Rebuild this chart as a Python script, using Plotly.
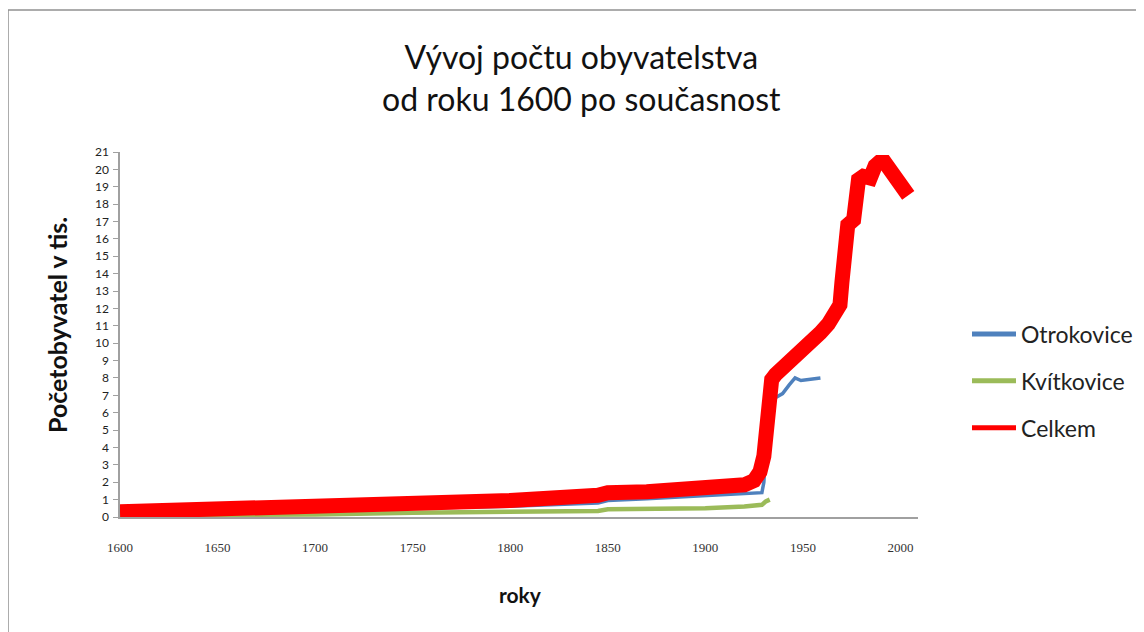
import plotly.graph_objects as go

# ---- data (population in thousands) ----
years_celkem = [1600, 1650, 1700, 1750, 1770, 1800, 1845, 1850, 1870, 1890, 1900, 1910, 1920, 1925,
                1928, 1930, 1931, 1932, 1933, 1934, 1936, 1940, 1947, 1954, 1959, 1963, 1966, 1969,
                1970, 1971, 1973, 1976, 1977, 1978.5, 1981, 1984.5, 1987, 1989, 1992, 1994, 1996,
                1998, 2000, 2002, 2004]
celkem = [0.3, 0.43, 0.57, 0.75, 0.83, 0.95, 1.25, 1.4, 1.45, 1.55, 1.7, 1.75, 1.85, 2.1,
          2.6, 3.5, 4.6, 6.0, 7.2, 7.9, 8.2, 8.6, 9.2, 9.9, 10.6, 11.1, 11.6, 12.2,
          13.5, 16.2, 16.8, 17.1, 18.0, 19.4, 19.6, 19.5, 20.2, 20.4, 20.4, 20.1, 19.8,
          19.5, 19.1, 18.7, 18.5]

years_otrokovice = [1600, 1650, 1700, 1750, 1800, 1845, 1850, 1870, 1900, 1920, 1929, 1930, 1931,
                    1932, 1935, 1939.6, 1943, 1946, 1949, 1954, 1959]
otrokovice = [0.2, 0.28, 0.38, 0.5, 0.62, 0.8, 0.95, 1.05, 1.25, 1.35, 1.4, 2.0, 4.0,
              6.0, 6.8, 7.1, 7.6, 8.0, 7.85, 7.9, 8.0]

years_kvitkovice = [1600, 1650, 1700, 1750, 1800, 1845, 1850, 1880, 1900, 1920, 1929, 1931, 1933]
kvitkovice = [0.1, 0.12, 0.15, 0.25, 0.3, 0.35, 0.45, 0.45, 0.5, 0.6, 0.7, 0.9, 1.0]

series_names = ["Otrokovice", "Kvítkovice", "Celkem"]
series_colors = ["#4F81BD", "#9BBB59", "#FF0000"]

x_tick_vals = [1600, 1650, 1700, 1750, 1800, 1850, 1900, 1950, 2000]
y_tick_vals = list(range(0, 22))

# page offset (html body margin) compensation
OFF = 8
W, H = 1144, 632
L, T = 120 - OFF, 152 - OFF
PW, PH = 798, 365
R = W - L - PW
B = H - T - PH


def px(xp):
    return (xp - OFF - L) / PW


def py(yp):
    return (H - (yp - OFF) - B) / PH


fig = go.Figure()

data_sets = [(years_otrokovice, otrokovice, 3.5),
             (years_kvitkovice, kvitkovice, 4.5),
             (years_celkem, celkem, 15)]

for (xs, ys, w), name, col in zip(data_sets, series_names, series_colors):
    fig.add_trace(go.Scatter(x=xs, y=ys, mode="lines", name=name,
                             line=dict(color=col, width=w), showlegend=False))

# legend entries (uniform line width like the reference)
for name, col in zip(series_names, series_colors):
    fig.add_trace(go.Scatter(x=[None], y=[None], mode="lines", name=name,
                             line=dict(color=col, width=5), legendgroup=name))

fig.update_layout(
    width=W, height=H,
    margin=dict(l=L, r=R, t=T, b=B),
    paper_bgcolor="white", plot_bgcolor="white",
    showlegend=True,
    legend=dict(x=px(967), y=py(381), xanchor="left", yanchor="middle",
                font=dict(family="Lato", size=23, color="#222222"),
                tracegroupgap=14, itemwidth=44, bgcolor="rgba(0,0,0,0)"),
    xaxis=dict(range=[1600, 2009], tickvals=x_tick_vals, showgrid=False, zeroline=False,
               showline=True, linecolor="#A0A0A0", linewidth=1.5, ticks="",
               tickfont=dict(family="Liberation Serif", size=13, color="#333333"),
               ticklabelstandoff=18),
    yaxis=dict(range=[0, 21], tickvals=y_tick_vals, showgrid=False, zeroline=False,
               showline=True, linecolor="#A0A0A0", linewidth=1.5, ticks="outside",
               ticklen=5, tickcolor="#A0A0A0",
               tickfont=dict(family="Lato", size=12, color="#222222"),
               ticklabelstandoff=2),
    annotations=[
        dict(text="Vývoj počtu obyvatelstva<br>od roku 1600 po současnost",
             xref="paper", yref="paper", x=px(581), y=py(77),
             xanchor="center", yanchor="middle", showarrow=False, align="center",
             font=dict(family="Lato", size=32, color="#111111")),
        dict(text="<b>Početobyvatel v tis.</b>", xref="paper", yref="paper",
             x=px(57), y=py(325), xanchor="center", yanchor="middle",
             textangle=-90, showarrow=False,
             font=dict(family="Lato", size=25, color="#111111")),
        dict(text="<b>roky</b>", xref="paper", yref="paper",
             x=px(520), y=py(594), xanchor="center", yanchor="middle",
             showarrow=False, font=dict(family="Lato", size=21, color="#111111")),
    ],
    shapes=[
        dict(type="line", xref="paper", yref="paper",
             x0=px(8), x1=px(1180), y0=py(10), y1=py(10),
             line=dict(color="#909090", width=1.5)),
        dict(type="line", xref="paper", yref="paper",
             x0=px(8), x1=px(8), y0=py(10), y1=py(700),
             line=dict(color="#909090", width=1.5)),
    ],
)

fig.write_html("out.html")
